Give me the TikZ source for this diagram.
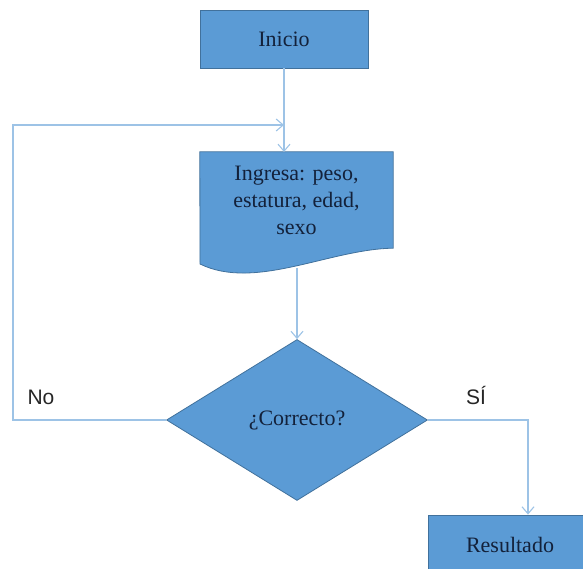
\documentclass[tikz,border=0pt]{standalone}
\usepackage{fontspec}
\setmainfont{Liberation Serif}
\newfontfamily\labelfont{Liberation Sans}
\usetikzlibrary{arrows.meta,shapes.geometric}
\definecolor{boxfill}{HTML}{5B9BD5}
\definecolor{boxline}{HTML}{41719C}
\definecolor{connline}{HTML}{9DC3E6}
\definecolor{boxtext}{HTML}{13213A}
\tikzset{
  procbox/.style={draw=boxline, fill=boxfill, line width=0.8pt, inner sep=0pt,
    text=boxtext, font=\fontsize{22}{27}\selectfont, align=center},
  decbox/.style={diamond, draw=boxline, fill=boxfill, line width=0.8pt, inner sep=0pt,
    text=boxtext, font=\fontsize{22}{27}\selectfont},
  conn/.style={draw=connline, line width=1.3pt, -{Straight Barb[length=7pt,width=12pt,line width=1.1pt]}},
  lbl/.style={font=\labelfont\fontsize{21}{25}\selectfont, text=black!85}
}
\begin{document}
\begin{tikzpicture}[x=1pt,y=1pt]
\useasboundingbox (0,0) rectangle (583,569);
\clip (0,0) rectangle (583,569);
% Inicio
\node[procbox, minimum width=168pt, minimum height=58pt] (inicio) at (284,530) {Inicio};
% Document (Ingresa)
\node[minimum width=193pt, minimum height=96pt, inner sep=0pt] (ingresa) at (296.5,369) {};
\fill[boxfill, draw=boxline, line width=0.8pt]
  (ingresa.north west) -- (ingresa.north east) -- (ingresa.south east)
  .. controls (330,320) and (255,278) .. (200,305) -- cycle;
\node[text=boxtext, font=\fontsize{22}{27}\selectfont, align=center] (ingtext) at (ingresa.center)
  {Ingresa: peso,\\estatura, edad,\\sexo};
% Decision
\node[decbox, minimum width=261pt, minimum height=161pt] (dec) at (297,149) {¿Correcto?};
% Resultado
\node[procbox, minimum width=164pt, minimum height=60pt] (res) at (510,24) {Resultado};
% Connectors
\coordinate (ingtop) at (284,417);
\coordinate (ingbot) at (297,301);
\coordinate (loopL) at (13,149);
\coordinate (loopT) at (13,444);
\coordinate (loopE) at (284,444);
\coordinate (siC) at (528,149);
\draw[conn] (inicio.south) -- (ingtop);
\draw[conn] (ingbot) -- (dec.north);
\draw[conn] (dec.west) -- (loopL) -- (loopT) -- (loopE);
\draw[conn] (dec.east) -- (siC) -- (siC |- res.north);
% Labels
\node[lbl] (no) at (41,172) {No};
\node[lbl] (si) at (476,173) {SÍ};
\end{tikzpicture}
\end{document}
